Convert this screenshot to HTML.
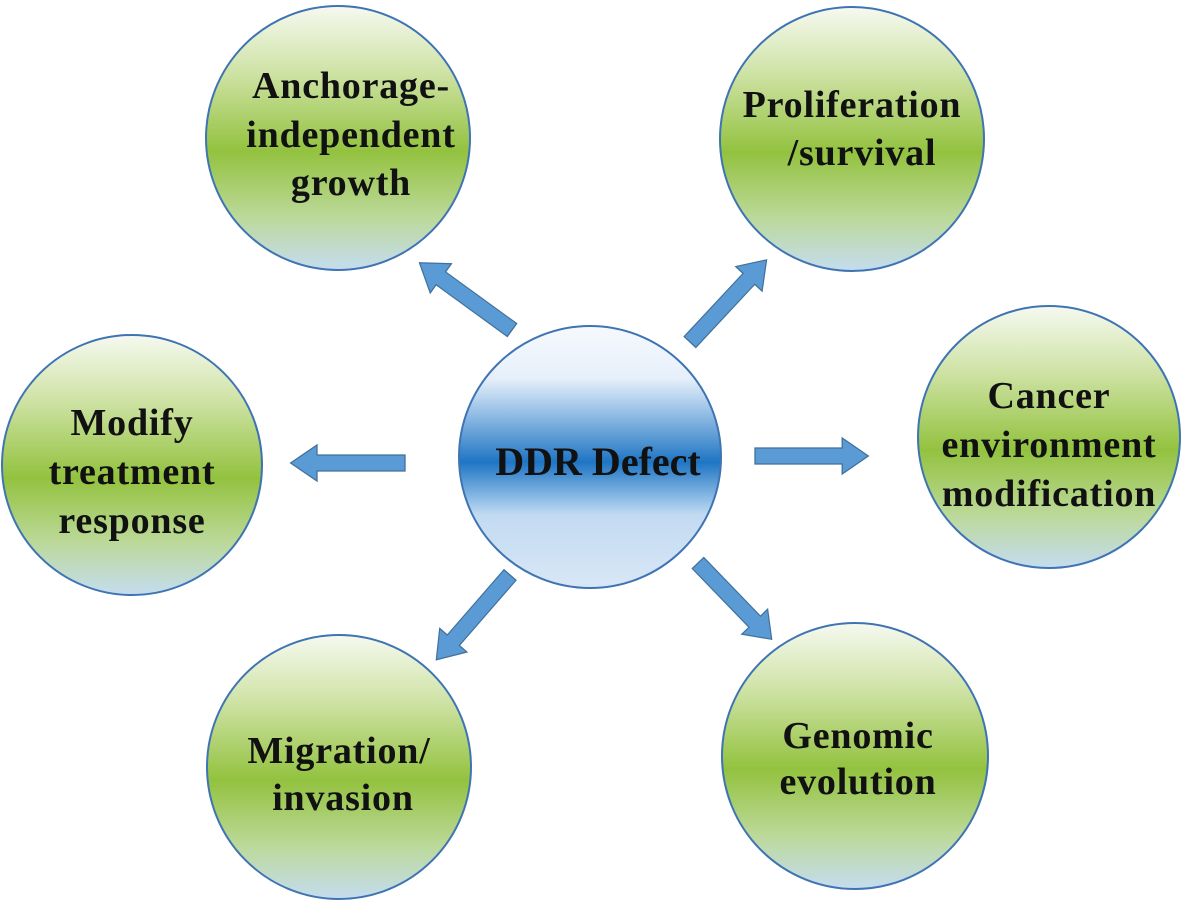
<!DOCTYPE html>
<html><head><style>
html,body{margin:0;padding:0;background:#fff;}
svg{display:block;}
text{font-family:"Liberation Serif",serif;font-weight:bold;fill:#111;text-anchor:middle;}
</style></head><body>
<svg width="1182" height="903" viewBox="0 0 1182 903">
<defs>
<linearGradient id="g" x1="0" y1="0" x2="0" y2="1">
<stop offset="0" stop-color="#f6f9f0"/>
<stop offset="0.25" stop-color="#cfe3a6"/>
<stop offset="0.55" stop-color="#93c23f"/>
<stop offset="0.8" stop-color="#bcd99a"/>
<stop offset="1" stop-color="#c4dcf0"/>
</linearGradient>
<linearGradient id="b" x1="0" y1="0" x2="0" y2="1">
<stop offset="0" stop-color="#f6f9fd"/>
<stop offset="0.2" stop-color="#e6f0fa"/>
<stop offset="0.3" stop-color="#a9cbeb"/>
<stop offset="0.52" stop-color="#1f75c4"/>
<stop offset="0.66" stop-color="#8fbde6"/>
<stop offset="0.72" stop-color="#c2daf1"/>
<stop offset="1" stop-color="#d8e7f6"/>
</linearGradient>
<polygon id="arr" points="0,-8 80,-8 80,-18 104,0 80,18 80,8 0,8" fill="#5b9bd5" stroke="#41719c" stroke-width="1.2"/>
</defs>
<g stroke="#3f74b3" stroke-width="2">
<circle cx="338" cy="138" r="132" fill="url(#g)"/>
<circle cx="852" cy="139" r="132" fill="url(#g)"/>
<circle cx="1049" cy="437" r="131" fill="url(#g)"/>
<circle cx="132" cy="465" r="130" fill="url(#g)"/>
<circle cx="339" cy="767" r="132" fill="url(#g)"/>
<circle cx="855" cy="756" r="133" fill="url(#g)"/>
<circle cx="590" cy="457" r="131" fill="url(#b)"/>
</g>
<use href="#arr" transform="translate(512,330) rotate(-144) scale(1.1,1)"/>
<use href="#arr" transform="translate(690,342) rotate(-47) scale(1.08,1)"/>
<use href="#arr" transform="translate(698,563) rotate(46) scale(1.02,1)"/>
<use href="#arr" transform="translate(510,575) rotate(131) scale(1.08,1)"/>
<use href="#arr" transform="translate(405,463) rotate(180) scale(1.1,1)"/>
<use href="#arr" transform="translate(755,456) scale(1.09,1)"/>
<g font-size="38" letter-spacing="0.8">
<text x="351" y="98">Anchorage-</text>
<text x="351" y="147">independent</text>
<text x="351" y="195">growth</text>
<text x="852" y="117">Proliferation</text>
<text x="862" y="165">/survival</text>
<text x="1049" y="408">Cancer</text>
<text x="1049" y="457">environment</text>
<text x="1049" y="506">modification</text>
<text x="132" y="435">Modify</text>
<text x="132" y="484">treatment</text>
<text x="132" y="533">response</text>
<text x="339" y="763">Migration/</text>
<text x="343" y="810">invasion</text>
<text x="858" y="748">Genomic</text>
<text x="858" y="794">evolution</text>
</g>
<text x="598" y="475" font-size="40">DDR Defect</text>
</svg>
</body></html>
